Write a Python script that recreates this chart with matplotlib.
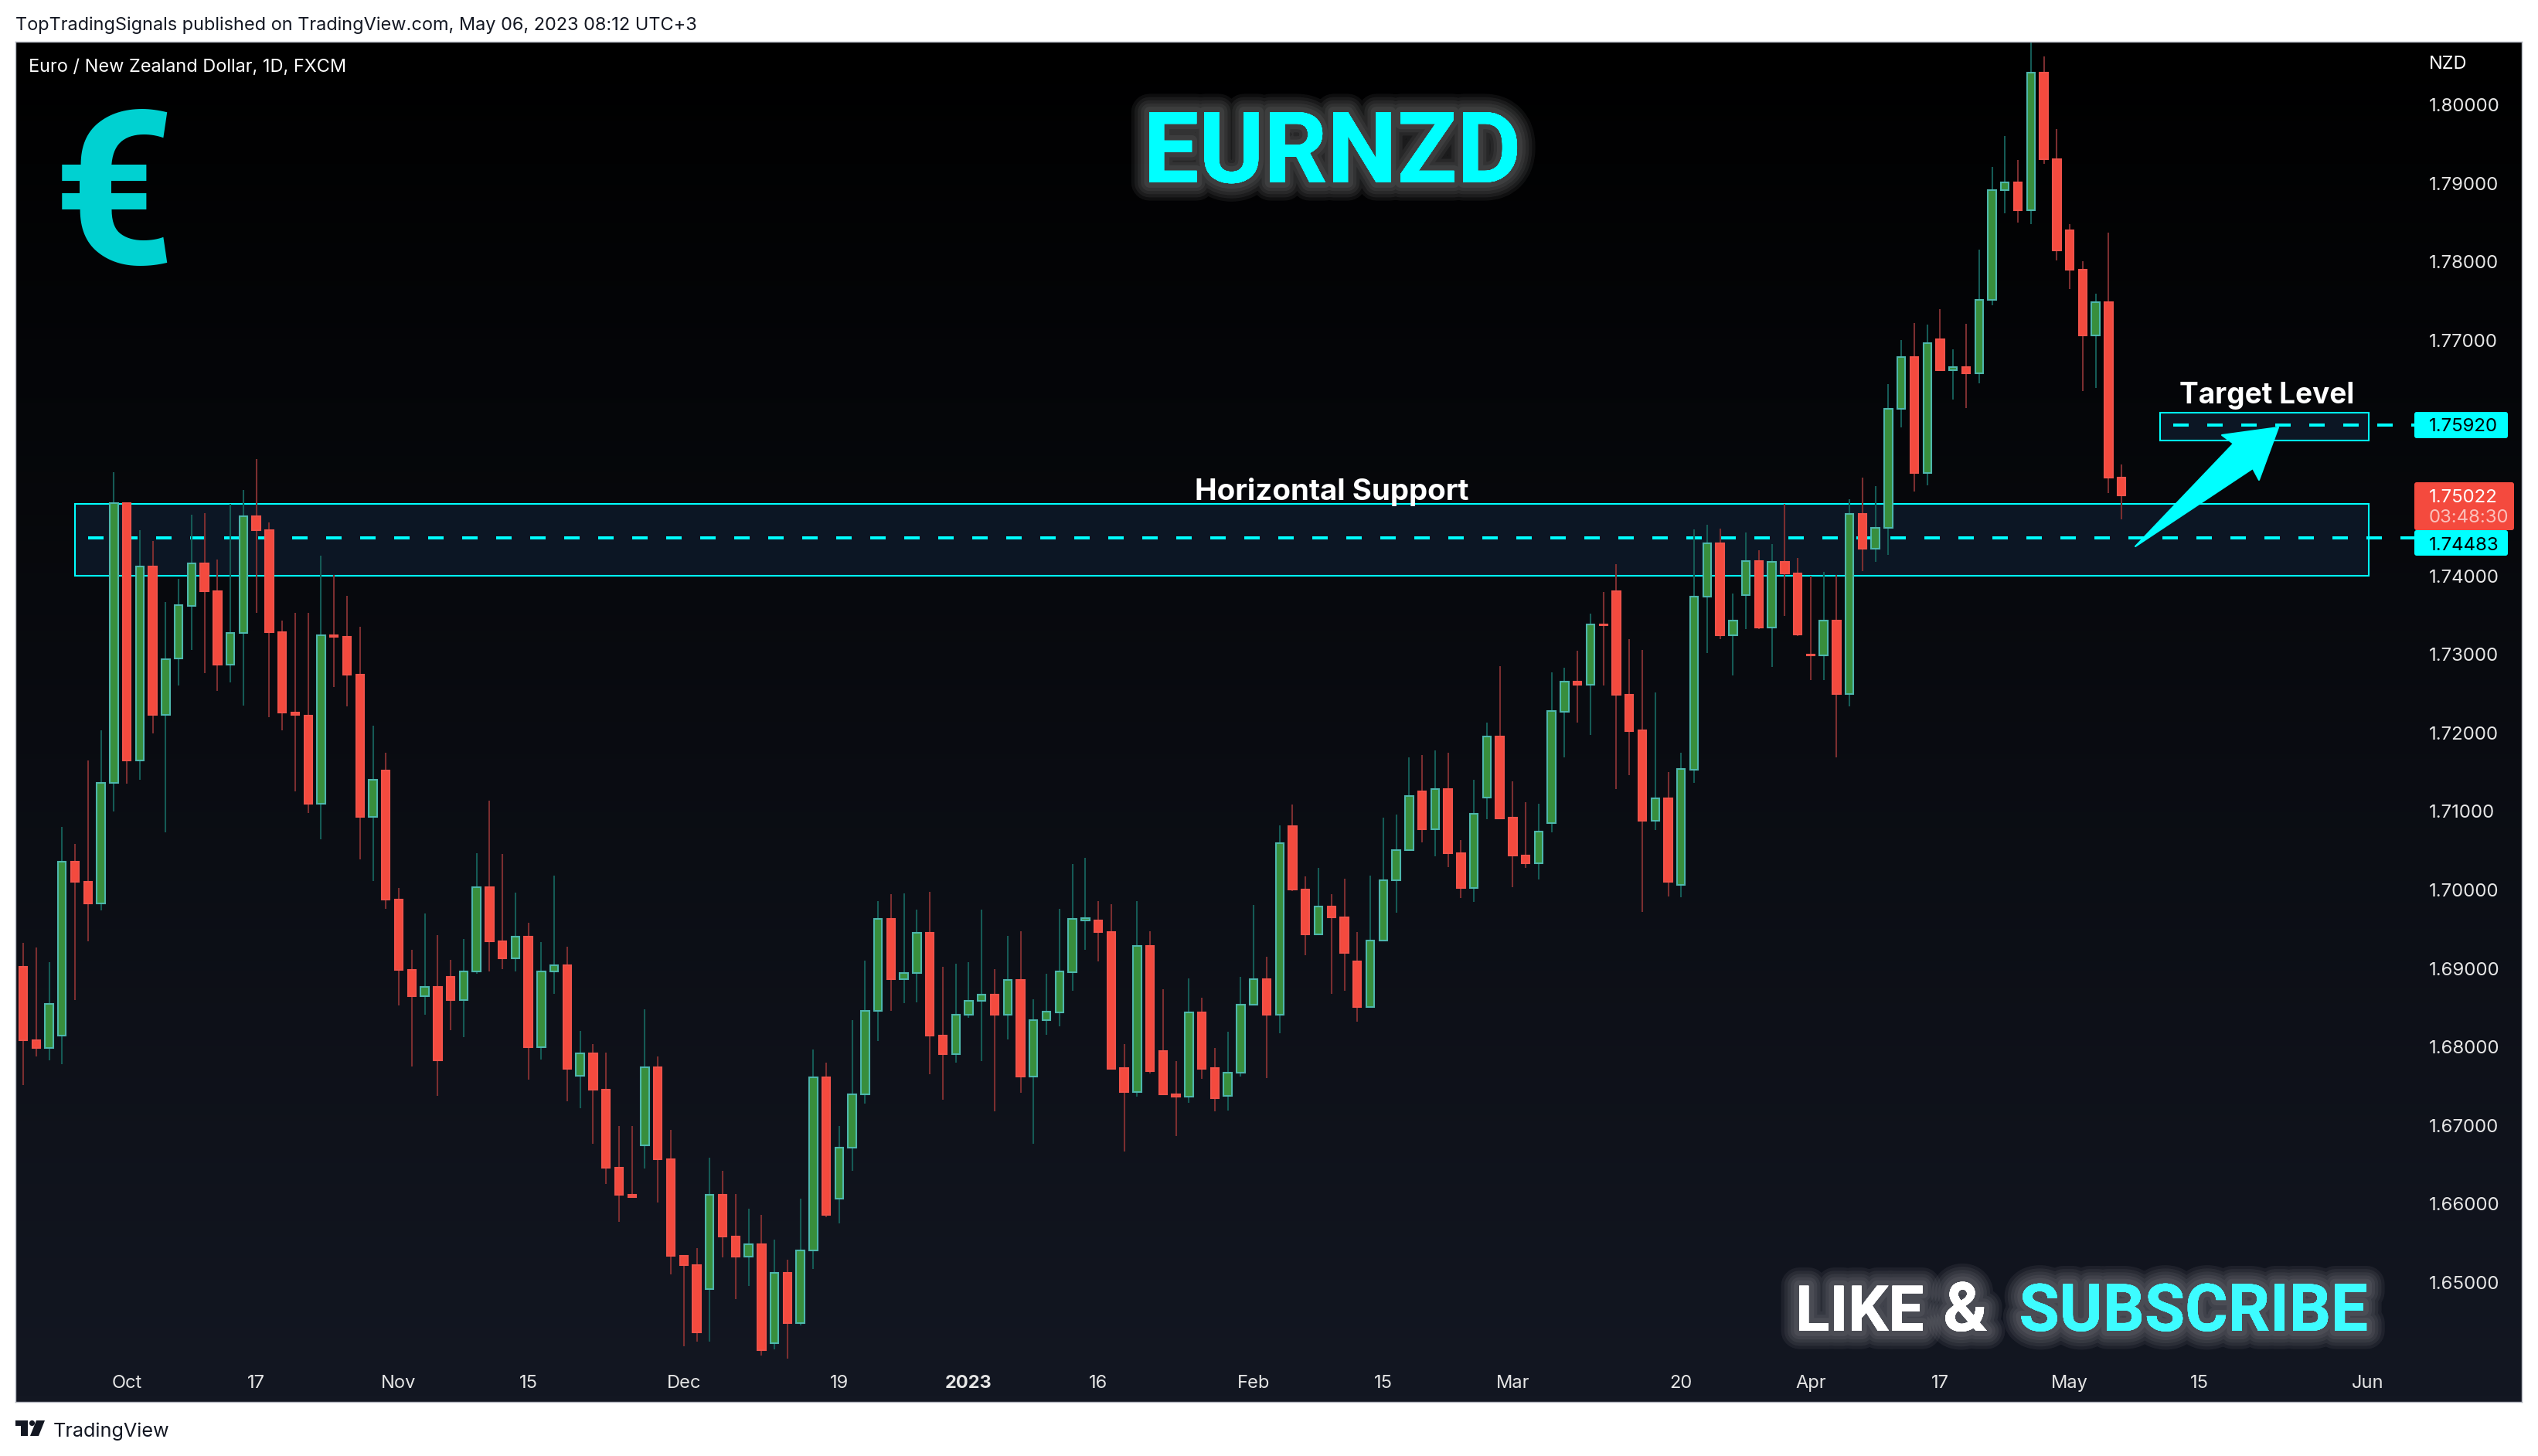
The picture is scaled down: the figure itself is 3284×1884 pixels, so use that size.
import numpy as np
import matplotlib
matplotlib.use("Agg")
import matplotlib.pyplot as plt
import matplotlib.patheffects as pe
from matplotlib.patches import Circle, FancyBboxPatch, Polygon, Rectangle
from matplotlib.transforms import Affine2D

# daily candles (oldest first)
opens = [1.6902, 1.6808, 1.6799, 1.6814, 1.7036, 1.7010, 1.6983, 1.7136, 1.7493, 1.7165, 1.7412, 1.7223, 1.7295,
         1.7362, 1.7416, 1.7380, 1.7287, 1.7327, 1.7476, 1.7458, 1.7328, 1.7226, 1.7222, 1.7110, 1.7324, 1.7322,
         1.7274, 1.7093, 1.7152, 1.6988, 1.6898, 1.6865, 1.6876, 1.6889, 1.6860, 1.6896, 1.7003, 1.6934, 1.6913,
         1.6940, 1.6800, 1.6896, 1.6904, 1.6763, 1.6792, 1.6745, 1.6646, 1.6612, 1.6675, 1.6774, 1.6657, 1.6534,
         1.6522, 1.6492, 1.6612, 1.6558, 1.6533, 1.6549, 1.6423, 1.6512, 1.6448, 1.6541, 1.6761, 1.6607, 1.6672,
         1.6740, 1.6846, 1.6963, 1.6886, 1.6894, 1.6945, 1.6814, 1.6791, 1.6841, 1.6859, 1.6867, 1.6841, 1.6885,
         1.6762, 1.6834, 1.6844, 1.6895, 1.6961, 1.6961, 1.6946, 1.6773, 1.6743, 1.6929, 1.6795, 1.6740, 1.6737,
         1.6844, 1.6773, 1.6738, 1.6767, 1.6854, 1.6886, 1.6841, 1.7081, 1.7000, 1.6943, 1.6979, 1.6965, 1.6909,
         1.6851, 1.6935, 1.7012, 1.7051, 1.7125, 1.7077, 1.7128, 1.7047, 1.7002, 1.7118, 1.7195, 1.7092, 1.7044,
         1.7034, 1.7085, 1.7227, 1.7265, 1.7261, 1.7338, 1.7380, 1.7248, 1.7203, 1.7088, 1.7117, 1.7006, 1.7153,
         1.7373, 1.7441, 1.7324, 1.7375, 1.7419, 1.7334, 1.7418, 1.7403, 1.7300, 1.7299, 1.7343, 1.7249, 1.7479,
         1.7434, 1.7461, 1.7613, 1.7679, 1.7531, 1.7701, 1.7662, 1.7666, 1.7658, 1.7751, 1.7891, 1.7901, 1.7866,
         1.8041, 1.7931, 1.7840, 1.7790, 1.7706, 1.7748, 1.7525]
highs = [1.6932, 1.6927, 1.6908, 1.7080, 1.7058, 1.7165, 1.7203, 1.7532, 1.7493, 1.7458, 1.7444, 1.7367, 1.7396,
         1.7478, 1.7480, 1.7421, 1.7492, 1.7509, 1.7549, 1.7468, 1.7343, 1.7353, 1.7353, 1.7426, 1.7401, 1.7374,
         1.7335, 1.7209, 1.7175, 1.7002, 1.6924, 1.6970, 1.6942, 1.6911, 1.6937, 1.7047, 1.7114, 1.7046, 1.6996,
         1.6958, 1.6933, 1.7018, 1.6928, 1.6820, 1.6804, 1.6793, 1.6699, 1.6699, 1.6848, 1.6788, 1.6694, 1.6534,
         1.6544, 1.6659, 1.6642, 1.6613, 1.6594, 1.6586, 1.6555, 1.6529, 1.6607, 1.6797, 1.6780, 1.6699, 1.6834,
         1.6910, 1.6986, 1.6994, 1.6995, 1.6975, 1.6997, 1.6902, 1.6906, 1.6908, 1.6975, 1.6899, 1.6941, 1.6947,
         1.6861, 1.6893, 1.6976, 1.7033, 1.7041, 1.6986, 1.6982, 1.6804, 1.6986, 1.6947, 1.6873, 1.6782, 1.6887,
         1.6863, 1.6799, 1.6819, 1.6889, 1.6981, 1.6915, 1.7082, 1.7109, 1.7017, 1.7028, 1.6994, 1.7014, 1.6946,
         1.7018, 1.7092, 1.7096, 1.7169, 1.7172, 1.7178, 1.7175, 1.7063, 1.7140, 1.7213, 1.7285, 1.7138, 1.7112,
         1.7110, 1.7277, 1.7283, 1.7305, 1.7352, 1.7379, 1.7415, 1.7319, 1.7306, 1.7251, 1.7150, 1.7175, 1.7459,
         1.7465, 1.7460, 1.7377, 1.7455, 1.7432, 1.7440, 1.7492, 1.7423, 1.7400, 1.7405, 1.7401, 1.7497, 1.7525,
         1.7514, 1.7644, 1.7700, 1.7722, 1.7720, 1.7740, 1.7688, 1.7721, 1.7815, 1.7921, 1.7960, 1.7930, 1.8080,
         1.8061, 1.7969, 1.7848, 1.7801, 1.7759, 1.7837, 1.7542]
lows = [1.6751, 1.6788, 1.6783, 1.6778, 1.6860, 1.6934, 1.6974, 1.7100, 1.7135, 1.7140, 1.7199, 1.7073, 1.7260,
        1.7306, 1.7276, 1.7253, 1.7264, 1.7235, 1.7353, 1.7220, 1.7203, 1.7125, 1.7098, 1.7064, 1.7258, 1.7234,
        1.7039, 1.7011, 1.6976, 1.6853, 1.6775, 1.6841, 1.6738, 1.6821, 1.6812, 1.6893, 1.6896, 1.6899, 1.6896,
        1.6758, 1.6784, 1.6868, 1.6731, 1.6722, 1.6677, 1.6625, 1.6577, 1.6609, 1.6645, 1.6602, 1.6510, 1.6419,
        1.6425, 1.6425, 1.6532, 1.6479, 1.6495, 1.6407, 1.6415, 1.6403, 1.6445, 1.6517, 1.6583, 1.6575, 1.6642,
        1.6728, 1.6807, 1.6846, 1.6856, 1.6857, 1.6765, 1.6733, 1.6780, 1.6837, 1.6782, 1.6718, 1.6809, 1.6742,
        1.6677, 1.6815, 1.6826, 1.6871, 1.6924, 1.6909, 1.6772, 1.6667, 1.6737, 1.6766, 1.6739, 1.6686, 1.6729,
        1.6759, 1.6718, 1.6719, 1.6762, 1.6854, 1.6760, 1.6817, 1.6998, 1.6917, 1.6943, 1.6868, 1.6871, 1.6832,
        1.6851, 1.6935, 1.6971, 1.7051, 1.7060, 1.7043, 1.7029, 1.6990, 1.6985, 1.7090, 1.7091, 1.7003, 1.7028,
        1.7013, 1.7073, 1.7169, 1.7213, 1.7197, 1.7260, 1.7128, 1.7146, 1.6972, 1.7076, 1.6992, 1.6991, 1.7136,
        1.7302, 1.7319, 1.7273, 1.7332, 1.7332, 1.7284, 1.7349, 1.7323, 1.7267, 1.7267, 1.7169, 1.7234, 1.7406,
        1.7418, 1.7427, 1.7589, 1.7507, 1.7515, 1.7662, 1.7624, 1.7614, 1.7645, 1.7744, 1.7862, 1.7850, 1.7848,
        1.7925, 1.7802, 1.7765, 1.7635, 1.7639, 1.7505, 1.7472]
closes = [1.6808, 1.6799, 1.6855, 1.7036, 1.7010, 1.6983, 1.7136, 1.7493, 1.7165, 1.7412, 1.7223, 1.7294, 1.7363,
          1.7416, 1.7380, 1.7287, 1.7327, 1.7476, 1.7458, 1.7328, 1.7226, 1.7223, 1.7110, 1.7324, 1.7322, 1.7274,
          1.7093, 1.7140, 1.6988, 1.6898, 1.6865, 1.6876, 1.6783, 1.6860, 1.6896, 1.7003, 1.6934, 1.6913, 1.6940,
          1.6800, 1.6896, 1.6904, 1.6772, 1.6792, 1.6745, 1.6646, 1.6612, 1.6609, 1.6774, 1.6657, 1.6534, 1.6522,
          1.6436, 1.6612, 1.6558, 1.6533, 1.6549, 1.6414, 1.6512, 1.6448, 1.6541, 1.6761, 1.6586, 1.6672, 1.6740,
          1.6846, 1.6963, 1.6886, 1.6894, 1.6945, 1.6814, 1.6791, 1.6841, 1.6859, 1.6867, 1.6841, 1.6885, 1.6762,
          1.6834, 1.6845, 1.6896, 1.6963, 1.6964, 1.6946, 1.6772, 1.6743, 1.6929, 1.6769, 1.6740, 1.6737, 1.6844,
          1.6772, 1.6735, 1.6767, 1.6854, 1.6886, 1.6841, 1.7059, 1.7000, 1.6943, 1.6979, 1.6965, 1.6920, 1.6851,
          1.6935, 1.7012, 1.7051, 1.7119, 1.7077, 1.7128, 1.7047, 1.7002, 1.7097, 1.7195, 1.7091, 1.7044, 1.7034,
          1.7074, 1.7228, 1.7265, 1.7261, 1.7338, 1.7337, 1.7248, 1.7202, 1.7088, 1.7117, 1.7010, 1.7154, 1.7373,
          1.7441, 1.7324, 1.7343, 1.7419, 1.7334, 1.7418, 1.7403, 1.7325, 1.7299, 1.7343, 1.7249, 1.7479, 1.7434,
          1.7461, 1.7613, 1.7679, 1.7531, 1.7696, 1.7662, 1.7666, 1.7658, 1.7751, 1.7891, 1.7901, 1.7866, 1.8041,
          1.7931, 1.7814, 1.7790, 1.7706, 1.7748, 1.7525, 1.7502]

# 1.75 and 1.76 are covered by the price labels in the picture
price_ticks = [1.65, 1.66, 1.67, 1.68, 1.69, 1.70, 1.71, 1.72, 1.73, 1.74, 1.77, 1.78, 1.79, 1.80]
date_ticks = [8, 18, 29, 39, 51, 63, 73, 83, 95, 105, 115, 128, 138, 148, 158, 168, 181]
date_labels = ["Oct", "17", "Nov", "15", "Dec", "19", "2023", "16", "Feb", "15", "Mar", "20", "Apr", "17", "May", "15", "Jun"]

ZONE_TOP, ZONE_BOTTOM, ZONE_LEVEL = 1.7492, 1.7400, 1.74483
TARGET_TOP, TARGET_BOTTOM, TARGET_LEVEL = 1.76077, 1.75722, 1.75920

W, H = 3284, 1884
CYAN = "#00ffff"
GLOW = [pe.withStroke(linewidth=w, foreground="white", alpha=0.055) for w in (34, 28, 22, 16, 10)]

plt.rcParams["font.family"] = ["Inter", "DejaVu Sans"]

fig = plt.figure(figsize=(W / 100, H / 100), dpi=100, facecolor="white")
px = Affine2D().scale(1, -1).translate(0, H)  # full-size picture pixels, y down

# chart pane, with the scales set so that one candle is 16.76 px
LEFT, RIGHT, TOP, BOTTOM = 20, 3263, 54, 1814
ax = fig.add_axes([LEFT / W, 1 - BOTTOM / H, (RIGHT - LEFT) / W, (BOTTOM - TOP) / H])
grad = np.linspace(0, 1, 256)[:, None, None] * np.array([[[19, 23, 34]]]) / 255
ax.imshow(grad, extent=[0, 1, 0, 1], transform=ax.transAxes, aspect="auto", zorder=0)
ax.set_xlim((LEFT - 30) / 16.76, (RIGHT - 30) / 16.76)
ax.set_ylim(1.74 - (BOTTOM - 745) / 10160, 1.74 + (745 - TOP) / 10160)

# zones and levels sit behind the candles
ax.add_patch(Rectangle((4, ZONE_BOTTOM), 177.1, ZONE_TOP - ZONE_BOTTOM, fc="#0c1624", ec=CYAN, lw=1.5, zorder=1))
ax.add_patch(Rectangle((165, TARGET_BOTTOM), 16.1, TARGET_TOP - TARGET_BOTTOM, fc="#0c1624", ec=CYAN, lw=1.5, zorder=1))
ax.plot([5, 184.6], [ZONE_LEVEL, ZONE_LEVEL], color=CYAN, lw=2.88, ls=(0, (5, 6)), dash_capstyle="butt", zorder=1.5)
ax.plot([166, 184.6], [TARGET_LEVEL, TARGET_LEVEL], color=CYAN, lw=2.88, ls=(0, (5, 6)), dash_capstyle="butt", zorder=1.5)

idx = np.arange(len(opens))
o, hi, lo, c = map(np.array, (opens, highs, lows, closes))
up = c >= o
ax.vlines(idx[up], lo[up], hi[up], color="#155a55", lw=1.5, zorder=2)
ax.vlines(idx[~up], lo[~up], hi[~up], color="#7b2e30", lw=1.5, zorder=2)
ax.bar(idx[up], (c - o)[up], bottom=o[up], width=0.62, color="#388e3c", edgecolor="#4db6ac", lw=1.5, zorder=3)
ax.bar(idx[~up], (o - c)[~up], bottom=c[~up], width=0.62, color="#f44a3e", edgecolor="#f0524a", lw=1.5, zorder=3)

ax.yaxis.tick_right()
ax.set_yticks(price_ticks)
ax.set_yticklabels([f"{p:.5f}" for p in price_ticks])
ax.tick_params(axis="y", length=0, pad=-86.4, labelsize=17.3, labelcolor="#e6e6e6")
ax.set_xticks(date_ticks)
ax.set_xticklabels(date_labels)
ax.tick_params(axis="x", length=0, pad=-25, labelsize=17, labelcolor="#e6e6e6")
ax.get_xticklabels()[6].set_fontweight("bold")
for s in ax.spines.values():
    s.set_color("#b2b5be")
    s.set_linewidth(1.0)


def put(x, y, s, size, color="white", ha="left", va="baseline", **kw):
    return fig.text(x, y, s, transform=px, fontsize=size * 0.72, color=color, ha=ha, va=va, **kw)


# header / footer / legend
put(20, 39, "TopTradingSignals published on TradingView.com, May 06, 2023 08:12 UTC+3", 23.5, color="#131722")
put(37, 93, "Euro / New Zealand Dollar, 1D, FXCM", 23.5)
put(3143, 89, "NZD", 23.5)
put(69, 1859, "TradingView", 25.2, color="#131722")
for a in (Polygon([(20, 1838), (36, 1838), (36, 1858), (27, 1858), (27, 1845), (20, 1845)], transform=px),
          Circle((41.5, 1841.5), 3.6, transform=px),
          Polygon([(47, 1838), (58, 1838), (50, 1858), (39, 1858)], transform=px)):
    a.set_facecolor("#131722")
    a.set_edgecolor("none")
    fig.add_artist(a)

# big titles
put(1724, 236, "EURNZD", 128, color=CYAN, ha="center", family="Roboto", weight="bold", path_effects=GLOW)
put(2323, 1722, "LIKE", 82, family="Roboto", weight="bold", path_effects=GLOW)
put(2543, 1722, "&", 88, ha="center", family="Roboto", weight="bold", path_effects=GLOW)
put(3064, 1722, "SUBSCRIBE", 85, color="#3dfcff", ha="right", family="Roboto", weight="bold", path_effects=GLOW)
put(147, 341, "€", 278, color="#00d1d1", ha="center", family="Roboto", weight="bold")

put(1723, 647, "Horizontal Support", 38.5, ha="center", weight="bold")
put(2933, 522, "Target Level", 37, ha="center", weight="bold")

# arrow to the target box
fig.add_artist(Polygon([(2763, 707), (2890, 574), (2875, 563), (2948, 553), (2923, 621), (2915, 606)],
                       transform=px, fc=CYAN, ec=CYAN, lw=1.5, joinstyle="round"))

# price scale labels
for (x0, y0, x1, y1, col) in ((3124, 533, 3248, 567, CYAN), (3124, 686, 3248, 719, CYAN), (3124, 624, 3256, 686, "#f44a3e")):
    fig.add_artist(FancyBboxPatch((x0, y0), x1 - x0 - 3, y1 - y0, boxstyle="round,pad=0,rounding_size=3",
                                  transform=px, fc=col, ec="none"))
put(3143, 550, "1.75920", 24, color="black", va="center_baseline")
put(3143, 703, "1.74483", 24, color="black", va="center_baseline")
put(3143, 641, "1.75022", 24, va="center_baseline")
put(3143, 668, "03:48:30", 24, color="#fbc0bb", va="center_baseline")

fig.savefig("out.png", dpi=100, facecolor="white")
